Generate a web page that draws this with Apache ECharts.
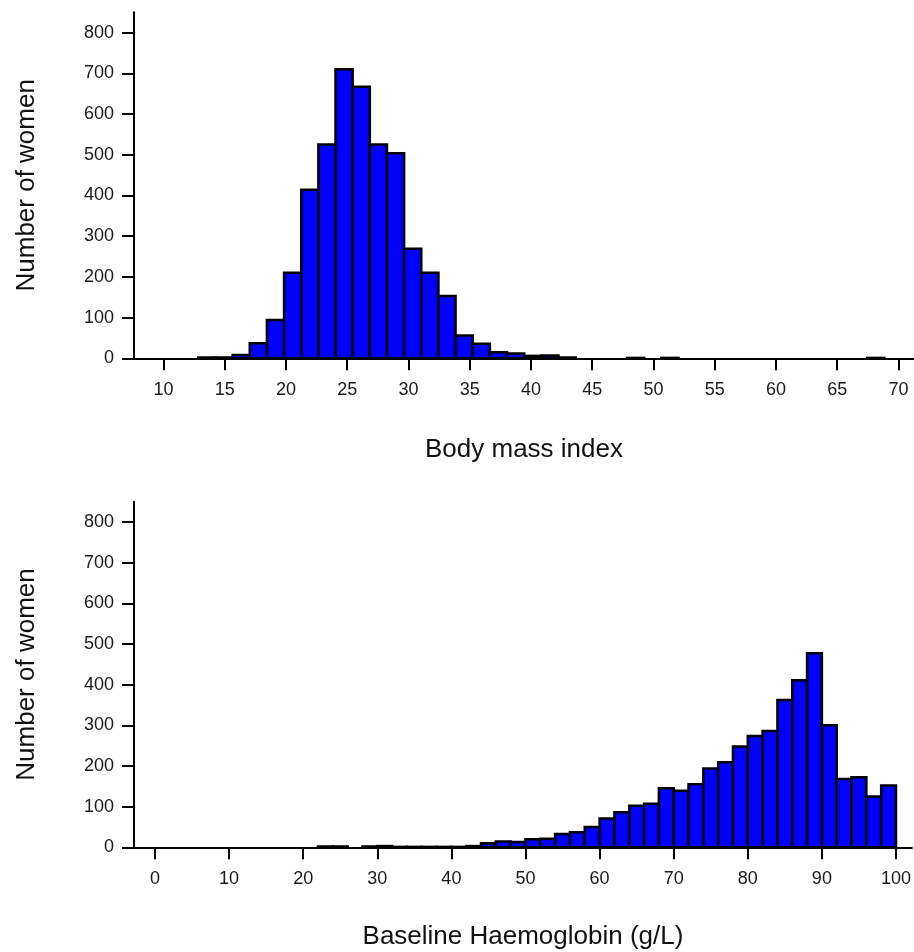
<!DOCTYPE html>
<html>
<head>
<meta charset="utf-8">
<script src="https://cdn.jsdelivr.net/npm/echarts@6/dist/echarts.min.js"></script>
<style>
html,body{margin:0;padding:0;background:#fff;}
#chart{width:914px;height:952px;}
</style>
</head>
<body>
<div id="chart"></div>
<script>
// ---- Data: Body mass index histogram (bin lower edges, bin width, counts)
const bmiBinLower = [12.85,14.25,15.65,17.05,18.45,19.85,21.25,22.65,24.05,25.45,
  26.85,28.25,29.65,31.05,32.45,33.85,35.25,36.65,38.05,39.45,
  40.85,42.25,43.65,45.05,46.45,47.85,49.25,50.65,52.05,53.45,
  54.85,56.25,57.65,59.05,60.45,61.85,63.25,64.65,66.05,67.45];
const bmiBinWidth = 1.4;
const bmiCounts = [2,2,8,37,94,210,414,525,710,667,
  525,504,269,210,153,56,36,15,12,6,
  7,2,0,0,0,1,0,1,0,0,
  0,0,0,0,0,0,0,0,0,1];
const bmiTicks = [10,15,20,25,30,35,40,45,50,55,60,65,70];

// ---- Data: Baseline Haemoglobin histogram
const hbBinLower = [22,24,26,28,30,32,34,36,38,40,42,44,46,48,50,52,54,56,58,60,
  62,64,66,68,70,72,74,76,78,80,82,84,86,88,90,92,94,96,98];
const hbBinWidth = 2;
const hbCounts = [2,2,0,2,3,1,1,1,1,1,3,10,14,13,20,21,33,37,50,71,
  86,102,107,145,139,155,194,209,248,274,286,362,411,477,300,168,172,125,152];
const hbTicks = [0,10,20,30,40,50,60,70,80,90,100];

const countTicks = [0,100,200,300,400,500,600,700,800];

function toHist(lower, width, counts) {
  const out = [];
  for (let i = 0; i < lower.length; i++) {
    if (counts[i] > 0) out.push([lower[i], lower[i] + width, counts[i]]);
  }
  return out;
}

function renderBar(params, api) {
  const x0 = api.value(0), x1 = api.value(1), v = api.value(2);
  const pTop = api.coord([x0, v]);
  const pBot = api.coord([x1, 0]);
  return {
    type: 'rect',
    shape: { x: pTop[0], y: pTop[1], width: pBot[0] - pTop[0], height: pBot[1] - pTop[1] },
    style: { fill: '#0000ff', stroke: '#000000', lineWidth: 2.5 }
  };
}

const FONT = '"Liberation Sans", Arial, sans-serif';
const axisLineStyle = { color: '#000', width: 2 };

function xAxisCfg(gridIndex, min, max, ticks, name, gap) {
  return {
    type: 'value', gridIndex, min, max,
    name, nameLocation: 'middle', nameGap: gap,
    nameTextStyle: { fontSize: 26, color: '#111', fontFamily: FONT },
    axisLine: { show: true, onZero: false, lineStyle: axisLineStyle },
    axisTick: { show: true, length: 12, inside: false, customValues: ticks, lineStyle: axisLineStyle },
    axisLabel: { customValues: ticks, margin: 23, fontSize: 18, color: '#1a1a1a', fontFamily: FONT },
    splitLine: { show: false }
  };
}
function yAxisCfg(gridIndex) {
  return {
    type: 'value', gridIndex, min: 0, max: 850,
    name: 'Number of women', nameLocation: 'middle', nameGap: 94,
    nameTextStyle: { fontSize: 26, color: '#111', fontFamily: FONT },
    axisLine: { show: true, onZero: false, lineStyle: axisLineStyle },
    axisTick: { show: true, length: 12, customValues: countTicks, lineStyle: axisLineStyle },
    axisLabel: { customValues: countTicks, margin: 20, fontSize: 18, color: '#1a1a1a', fontFamily: FONT },
    splitLine: { show: false }
  };
}

const chart = echarts.init(document.getElementById('chart'), null, { renderer: 'canvas' });
chart.setOption({
  animation: false,
  backgroundColor: '#ffffff',
  textStyle: { fontFamily: FONT },
  grid: [
    { left: 134, top: 12.3, width: 780, height: 346 },
    { left: 134, top: 501.7, width: 780, height: 345.6 }
  ],
  xAxis: [
    xAxisCfg(0, 7.6, 71.27, bmiTicks, 'Body mass index', 79),
    xAxisCfg(1, -2.83, 102.15, hbTicks, 'Baseline Haemoglobin (g/L)', 77)
  ],
  yAxis: [yAxisCfg(0), yAxisCfg(1)],
  series: [
    {
      type: 'custom', xAxisIndex: 0, yAxisIndex: 0,
      renderItem: renderBar, encode: { x: [0, 1], y: 2 },
      data: toHist(bmiBinLower, bmiBinWidth, bmiCounts)
    },
    {
      type: 'custom', xAxisIndex: 1, yAxisIndex: 1,
      renderItem: renderBar, encode: { x: [0, 1], y: 2 },
      data: toHist(hbBinLower, hbBinWidth, hbCounts)
    }
  ]
});
</script>
</body>
</html>
